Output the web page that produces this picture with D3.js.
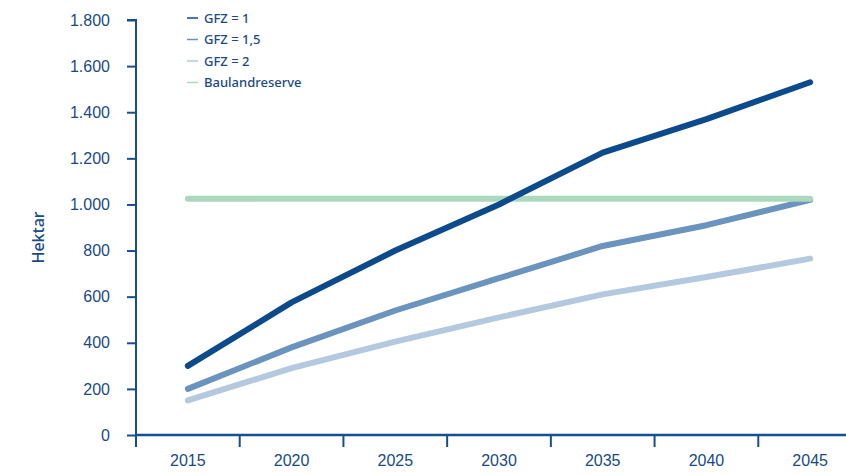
<!DOCTYPE html>
<html>
<head>
<meta charset="utf-8">
<script src="https://cdn.jsdelivr.net/npm/d3@7"></script>
<style>
  html, body { margin: 0; padding: 0; background: #fff; }
  svg { display: block; font-family: "Noto Sans", "Open Sans", sans-serif; }
</style>
</head>
<body>
<svg id="chart" width="846" height="475"></svg>
<script>
// Flächenbedarf in Hektar nach Geschossflächenzahl
const years = ["2015", "2020", "2025", "2030", "2035", "2040", "2045"];
const gfz1 = [300, 575, 800, 1000, 1225, 1370, 1530];
const gfz15 = [200, 380, 540, 680, 820, 910, 1020];
const gfz2 = [150, 290, 405, 510, 610, 685, 765];
const reserve = [1025, 1025, 1025, 1025, 1025, 1025, 1025];
const yTicks = [0, 200, 400, 600, 800, 1000, 1200, 1400, 1600, 1800];
const seriesNames = ["GFZ = 1", "GFZ = 1,5", "GFZ = 2", "Baulandreserve"];

const axisColor = "#154f91";
const textColor = "#1a4a85";
const colors = ["#0b4a8b", "#6a93be", "#b4c8de", "#acd8bf"];

const svg = d3.select("#chart");
const x0 = 136, x1 = 862, yTop = 20, yBottom = 435;

const x = d3.scaleBand().domain(years).range([x0, x1]).paddingInner(0).paddingOuter(0);
const y = d3.scaleLinear().domain([0, 1800]).range([yBottom, yTop]);

// y axis
const yAxis = svg.append("g").attr("transform", `translate(${x0},0)`)
  .call(d3.axisLeft(y).tickValues(yTicks).tickSize(9).tickPadding(17)
    .tickFormat(d => d3.format(",")(d).replace(/,/g, ".")));
yAxis.select(".domain").attr("stroke", axisColor).attr("stroke-width", 2)
  .attr("d", `M-9,${yTop}H0V${yBottom}`);
yAxis.selectAll(".tick line").attr("stroke", axisColor).attr("stroke-width", 2);
yAxis.selectAll(".tick text").attr("fill", textColor).attr("font-size", 16)
  .attr("font-weight", 500);

// x axis
const xAxis = svg.append("g").attr("transform", `translate(0,${yBottom})`)
  .call(d3.axisBottom(x).tickSize(0).tickPadding(20));
xAxis.select(".domain").attr("stroke", axisColor).attr("stroke-width", 2.5)
  .attr("d", `M${x0},0H${x1}`);
xAxis.selectAll(".tick text").attr("fill", textColor).attr("font-size", 16)
  .attr("font-weight", 500);
// boundary ticks between year bands
const bounds = years.map(d => x(d)).concat([x1]);
xAxis.selectAll("line.sep").data(bounds).join("line").attr("class", "sep")
  .attr("x1", d => d).attr("x2", d => d).attr("y1", 0).attr("y2", 12)
  .attr("stroke", axisColor).attr("stroke-width", 2);

// y axis title
svg.append("text")
  .attr("transform", `translate(44,${(yTop + yBottom) / 2 + 10}) rotate(-90)`)
  .attr("text-anchor", "middle").attr("fill", textColor)
  .attr("font-size", 16).attr("font-weight", 500).text("Hektar");

// lines
const cx = d => x(d) + x.bandwidth() / 2;
const line = d3.line().x((d, i) => cx(years[i])).y(d => y(d));
const series = [gfz1, gfz15, gfz2, reserve];
const order = [2, 1, 3, 0];
order.forEach(k => {
  svg.append("path").datum(series[k])
    .attr("d", line).attr("fill", "none")
    .attr("stroke", colors[k]).attr("stroke-width", 6)
    .attr("stroke-linecap", "round").attr("stroke-linejoin", "round");
});

// legend
const lg = svg.append("g").attr("transform", "translate(187,18)");
seriesNames.forEach((name, i) => {
  const g = lg.append("g").attr("transform", `translate(0,${i * 21.5})`);
  g.append("line").attr("x1", 0).attr("x2", 11).attr("y1", 0).attr("y2", 0)
    .attr("stroke", colors[i]).attr("stroke-width", 1.5);
  g.append("text").attr("x", 17).attr("y", 0).attr("dy", "0.35em")
    .attr("fill", textColor).attr("font-size", 13).attr("font-weight", 500)
    .text(name);
});
</script>
</body>
</html>
